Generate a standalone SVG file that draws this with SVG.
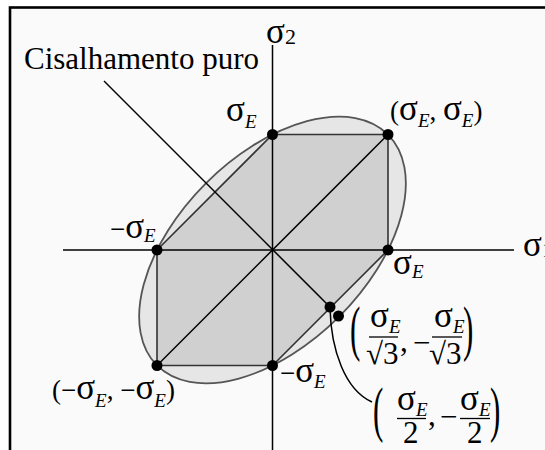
<svg xmlns="http://www.w3.org/2000/svg" width="545" height="450" viewBox="0 0 545 450">
<style>
text{font-family:"Liberation Serif","Times New Roman",serif;fill:#000;font-size:27px}
.big{font-size:31px}
.s{font-size:35px}
.e{font-size:19px;font-style:italic}
.n{font-size:22px}
.bar{stroke:#000;stroke-width:1.3}
.dot{fill:#000}
.ax{stroke:#000;stroke-width:1.5;fill:none}
</style>
<rect x="0" y="0" width="545" height="450" fill="#fff"/>
<rect x="10" y="7.5" width="560" height="470" fill="#fafafa" stroke="#000" stroke-width="2.6"/>
<g id="ellipse">
<ellipse cx="272.5" cy="250" rx="163.3" ry="94.3" transform="rotate(-45 272.5 250)" fill="#e6e6e6" stroke="#555" stroke-width="1.8"/>
</g>
<g id="hexagon">
<polygon points="388,250 388,134.5 272.5,134.5 157,250 157,365.5 272.5,365.5" fill="#d0d0d0" stroke="#333" stroke-width="1.6"/>
</g>
<g id="connectors">
<line class="ax" x1="63" y1="250" x2="514" y2="250"/>
<line class="ax" x1="272.5" y1="45" x2="272.5" y2="450"/>
<line class="ax" x1="157" y1="365.5" x2="388" y2="134.5" stroke-width="1.4" stroke="#222"/>
<line class="ax" x1="104" y1="81" x2="330" y2="307" stroke-width="1.3"/>
<path class="ax" d="M330,308 C331,350 345,390 372,402" stroke-width="1.4"/>
</g>
<g id="points">
<circle class="dot" cx="272.5" cy="134.5" r="5.5"/>
<circle class="dot" cx="388" cy="134.5" r="5.5"/>
<circle class="dot" cx="157" cy="250" r="5.5"/>
<circle class="dot" cx="388" cy="250" r="5.5"/>
<circle class="dot" cx="157" cy="365.5" r="5.5"/>
<circle class="dot" cx="272.5" cy="365.5" r="5.5"/>
<circle class="dot" cx="330" cy="307" r="5.5"/>
<circle class="dot" cx="338.5" cy="316" r="5.5"/>
</g>
<g id="labels">
<text class="big" x="24" y="69">Cisalhamento puro</text>
<text x="266" y="43"><tspan class="s">σ</tspan><tspan class="n" dy="1">2</tspan></text>
<text x="226" y="121"><tspan class="s">σ</tspan><tspan class="e" dy="7">E</tspan></text>
<text x="390" y="120">(<tspan class="s">σ</tspan><tspan class="e" dy="7">E</tspan><tspan dy="-7">, </tspan><tspan class="s">σ</tspan><tspan class="e" dy="7">E</tspan><tspan dy="-7">)</tspan></text>
<text x="110" y="238">−<tspan class="s">σ</tspan><tspan class="e" dy="4">E</tspan></text>
<text x="393" y="274"><tspan class="s">σ</tspan><tspan class="e" dy="4">E</tspan></text>
<text x="523" y="256"><tspan class="s">σ</tspan><tspan class="n" dy="1">1</tspan></text>
<text x="280" y="382">−<tspan class="s">σ</tspan><tspan class="e" dy="6">E</tspan></text>
<text x="52" y="399">(−<tspan class="s">σ</tspan><tspan class="e" dy="8">E</tspan><tspan dy="-8">, −</tspan><tspan class="s">σ</tspan><tspan class="e" dy="8">E</tspan><tspan dy="-8">)</tspan></text>
</g>
<g id="frac1">
<text class="big" x="350" y="349" transform="translate(350 349) scale(1 1.95) translate(-350 -349)">(</text>
<text x="370" y="327"><tspan class="s">σ</tspan><tspan class="e" dy="6">E</tspan></text>
<line class="bar" x1="369" y1="337" x2="398" y2="337"/>
<text class="big" x="366" y="364">√3</text>
<text class="big" x="400" y="351">,</text>
<text class="big" x="413" y="353">−</text>
<text x="434" y="327"><tspan class="s">σ</tspan><tspan class="e" dy="6">E</tspan></text>
<line class="bar" x1="432" y1="337" x2="462" y2="337"/>
<text class="big" x="429" y="364">√3</text>
<text class="big" x="463" y="349" transform="translate(463 349) scale(1 1.95) translate(-463 -349)">)</text>
</g>
<g id="frac2">
<text class="big" x="373" y="430" transform="translate(373 430) scale(1 1.95) translate(-373 -430)">(</text>
<text x="397" y="410"><tspan class="s">σ</tspan><tspan class="e" dy="6">E</tspan></text>
<line class="bar" x1="397" y1="418.5" x2="426" y2="418.5"/>
<text class="big" x="403" y="443">2</text>
<text class="big" x="428" y="425">,</text>
<text class="big" x="440" y="427">−</text>
<text x="460" y="410"><tspan class="s">σ</tspan><tspan class="e" dy="6">E</tspan></text>
<line class="bar" x1="460" y1="418.5" x2="490" y2="418.5"/>
<text class="big" x="467" y="443">2</text>
<text class="big" x="490" y="430" transform="translate(490 430) scale(1 1.95) translate(-490 -430)">)</text>
</g>
</svg>
